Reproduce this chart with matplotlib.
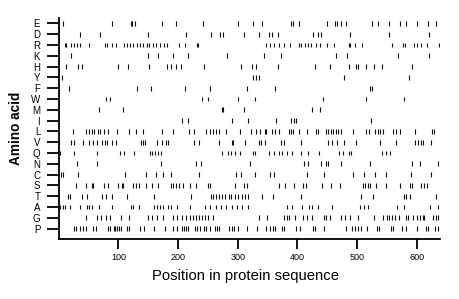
import matplotlib
matplotlib.use("Agg")
import matplotlib.pyplot as plt

amino_acids = ["E", "D", "R", "K", "H", "Y", "F", "W", "M", "I",
               "L", "V", "Q", "N", "C", "S", "T", "A", "G", "P"]

E = [7, 90, 121, 123, 128, 174, 196, 242, 300, 326, 340, 389, 393, 402, 449, 463, 467, 473, 482,
     526, 535, 553, 572, 582, 600, 619, 633]
D = [35, 70, 149, 213, 256, 270, 275, 310, 335, 352, 358, 368, 427, 435, 440, 489, 554, 620]
R = [10, 13, 20, 26, 30, 35, 50, 78, 81, 90, 96, 110, 115, 120, 124, 131, 136, 142, 148, 151, 158,
     163, 170, 177, 181, 202, 211, 232, 234, 348, 355, 361, 369, 377, 387, 403, 407, 413, 418, 423,
     432, 438, 449, 462, 486, 489, 497, 508, 559, 577, 581, 595, 601, 607, 618, 638]
K = [21, 149, 166, 192, 217, 282, 344, 372, 464, 484, 569, 621]
H = [12, 33, 39, 99, 117, 151, 181, 189, 196, 205, 243, 306, 324, 330, 367, 429, 455, 486, 498, 502,
     515, 529, 542, 593]
Y = [6, 325, 330, 336, 478, 587]
F = [17, 131, 154, 211, 254, 315, 363, 522, 525]
W = [79, 86, 240, 251, 300, 329, 443, 515, 579]
M = [68, 108, 273, 276, 311, 424, 438]
I = [206, 216, 290, 318, 365, 389, 394, 398, 524]
L = [24, 46, 51, 56, 60, 66, 70, 76, 82, 97, 118, 130, 141, 174, 191, 218, 226, 247, 253, 258, 264,
     269, 281, 304, 322, 330, 338, 345, 348, 358, 362, 369, 386, 389, 393, 402, 417, 431, 434, 448,
     452, 456, 460, 465, 469, 474, 493, 515, 520, 531, 535, 539, 543, 561, 565, 572, 597, 625, 629]
V = [1, 20, 25, 41, 50, 58, 65, 73, 77, 81, 89, 96, 138, 141, 145, 165, 173, 180, 184, 227, 235, 269,
     291, 293, 313, 335, 339, 346, 373, 378, 407, 451, 458, 467, 478, 498, 539, 565, 598, 602, 607,
     611, 624]
Q = [2, 26, 65, 103, 110, 127, 153, 157, 162, 167, 172, 274, 283, 288, 296, 304, 325, 329, 352, 361,
     369, 375, 382, 391, 407, 418, 436, 470, 477, 487, 490, 542, 548, 556]
N = [30, 65, 172, 230, 239, 321, 411, 418, 439, 448, 452, 474, 522, 593, 606, 635]
C = [4, 7, 33, 111, 146, 163, 175, 188, 236, 297, 305, 329, 354, 361, 416, 444, 494, 512, 531, 548,
     591, 624]
S = [29, 46, 55, 57, 76, 83, 100, 106, 108, 125, 130, 134, 146, 156, 167, 188, 192, 196, 202, 208,
     220, 230, 251, 253, 296, 310, 315, 369, 379, 394, 410, 414, 441, 456, 472, 510, 514, 518, 522,
     532, 549, 572, 589, 593, 608, 612, 617]
T = [15, 19, 39, 48, 72, 79, 89, 114, 160, 222, 255, 259, 264, 268, 274, 279, 285, 289, 296, 301,
     307, 313, 318, 340, 360, 406, 507, 527, 579, 582, 589, 632]
A = [3, 7, 11, 19, 36, 48, 51, 55, 68, 90, 121, 124, 135, 159, 164, 169, 175, 184, 188, 198, 220,
     245, 254, 263, 272, 280, 290, 299, 308, 318, 382, 391, 408, 420, 425, 434, 458, 505, 511, 518,
     567, 579, 622, 636]
G = [46, 65, 71, 79, 86, 104, 118, 149, 156, 164, 175, 192, 199, 207, 213, 220, 225, 230, 236, 241,
     245, 251, 258, 335, 350, 378, 382, 386, 396, 409, 416, 424, 444, 448, 454, 474, 480, 488, 501,
     529, 544, 550, 554, 559, 564, 571, 582, 585, 594, 600, 605, 610, 613, 628, 632, 636]
P = [26, 29, 35, 41, 45, 57, 62, 82, 86, 92, 94, 97, 101, 104, 114, 118, 136, 143, 159, 178, 192,
     198, 206, 210, 213, 216, 229, 232, 237, 243, 247, 254, 262, 265, 268, 286, 290, 294, 300, 315,
     332, 348, 354, 359, 363, 374, 378, 398, 405, 426, 430, 445, 481, 491, 497, 501, 507, 516, 533,
     537, 557, 561, 575, 583, 601, 616, 619, 631, 636]

positions = {"E": E, "D": D, "R": R, "K": K, "H": H, "Y": Y, "F": F, "W": W, "M": M, "I": I,
             "L": L, "V": V, "Q": Q, "N": N, "C": C, "S": S, "T": T, "A": A, "G": G, "P": P}

x_ticks = [100, 200, 300, 400, 500, 600]

plt.rcParams["font.family"] = ["Liberation Sans", "DejaVu Sans"]

fig = plt.figure(figsize=(4.6, 2.99), dpi=100)
ax = fig.add_axes([0.1276, 0.2017, 0.830, 0.738])

n = len(amino_acids)
for i, aa in enumerate(amino_acids):
    yv = n - 1 - i
    ax.vlines(positions[aa], yv - 0.22, yv + 0.22, colors="#111111", linewidth=0.8)

ax.set_xlim(0, 640)
ax.set_ylim(-0.93, n - 0.5)
ax.set_yticks(range(n))
ax.set_yticklabels(amino_acids[::-1], fontsize=7)
ax.set_xticks(x_ticks)
ax.set_xticklabels([str(t) for t in x_ticks], fontsize=6.5)
ax.tick_params(axis="y", length=9, width=1.3, pad=4.3)
ax.tick_params(axis="x", length=7, width=1.3, pad=3)
for s in ["top", "right"]:
    ax.spines[s].set_visible(False)
for s in ["left", "bottom"]:
    ax.spines[s].set_linewidth(1.3)

ax.set_xlabel("Position in protein sequence", fontsize=10.7)
ax.xaxis.set_label_coords(0.49, -0.138)
ax.set_ylabel("Amino acid", fontsize=9.8, fontweight="bold")
ax.yaxis.set_label_coords(-0.093, 0.5)

fig.savefig("out.png", dpi=100)
